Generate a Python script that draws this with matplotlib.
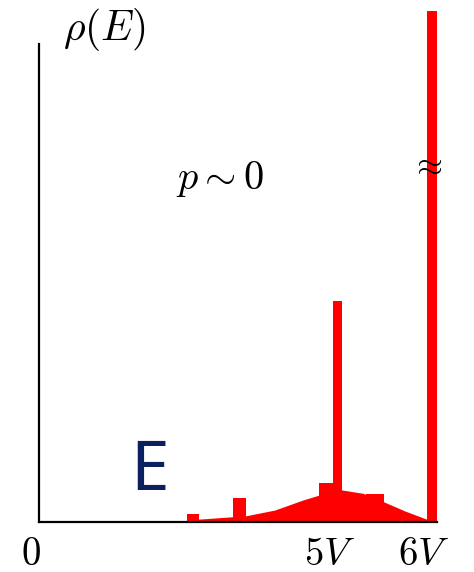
import matplotlib
matplotlib.use("Agg")
import matplotlib.pyplot as plt
import matplotlib.transforms as mtransforms

plt.rcParams["mathtext.fontset"] = "cm"

# Smooth continuum of the density of states (E in units of V)
cont_E = [2.00, 2.44, 3.16, 3.60, 4.03, 4.27, 4.49, 4.63, 4.95, 5.27, 5.59, 5.92]
cont_rho = [0.0, 0.006, 0.013, 0.025, 0.046, 0.056, 0.065, 0.067, 0.060, 0.042, 0.023, 0.006]

# Discrete contributions drawn as rectangular bins: [lo, hi] edges and height
bin_lo = [2.26, 2.96, 4.27, 5.00, 4.49, 5.92]
bin_hi = [2.44, 3.16, 4.49, 5.27, 4.63, 6.08]
bin_rho = [0.017, 0.050, 0.082, 0.058, 0.462, 1.069]

tick_pos = [0.0, 4.56, 6.0]
tick_labels = [r"$0$", r"$5V$", r"$6V$"]

RED = "#ff0000"

fig = plt.figure(figsize=(4.74, 5.72), dpi=100)
ax = fig.add_axes([0.0823, 0.0874, 0.8397, 0.8357])

ax.fill_between(cont_E, 0, cont_rho, color=RED, linewidth=0)
widths = [h - l for l, h in zip(bin_lo, bin_hi)]
ax.bar(bin_lo, bin_rho, width=widths, align="edge", color=RED,
       linewidth=0, clip_on=False)

ax.set_xlim(0, 6.08)
ax.set_ylim(0, 1)
for s in ("top", "right"):
    ax.spines[s].set_visible(False)
for s in ("left", "bottom"):
    ax.spines[s].set_linewidth(1.6)
    ax.spines[s].set_color("black")
    ax.spines[s].set_zorder(5)

ax.set_yticks([])
ax.set_xticks(tick_pos)
ax.set_xticklabels(tick_labels, fontsize=28)
ax.tick_params(axis="x", length=0, pad=9)
shift = mtransforms.ScaledTranslation(-8 / 100, 0, fig.dpi_scale_trans)
for lab in ax.get_xticklabels():
    lab.set_transform(lab.get_transform() + shift)

ax.text(1.0, 1.03, r"$\rho(E)$", fontsize=30, ha="center", va="center",
        clip_on=False)
ax.text(2.77, 0.718, r"$p\sim0$", fontsize=29, ha="center", va="center")
ax.text(5.93, 0.748, r"$\approx$", fontsize=24, ha="center", va="center",
        color="black", zorder=6)
ax.text(1.69, 0.105, "E", fontsize=50, ha="center", va="center",
        color="#0c1f5f", family="Noto Sans")

fig.savefig("out.png", dpi=100)
